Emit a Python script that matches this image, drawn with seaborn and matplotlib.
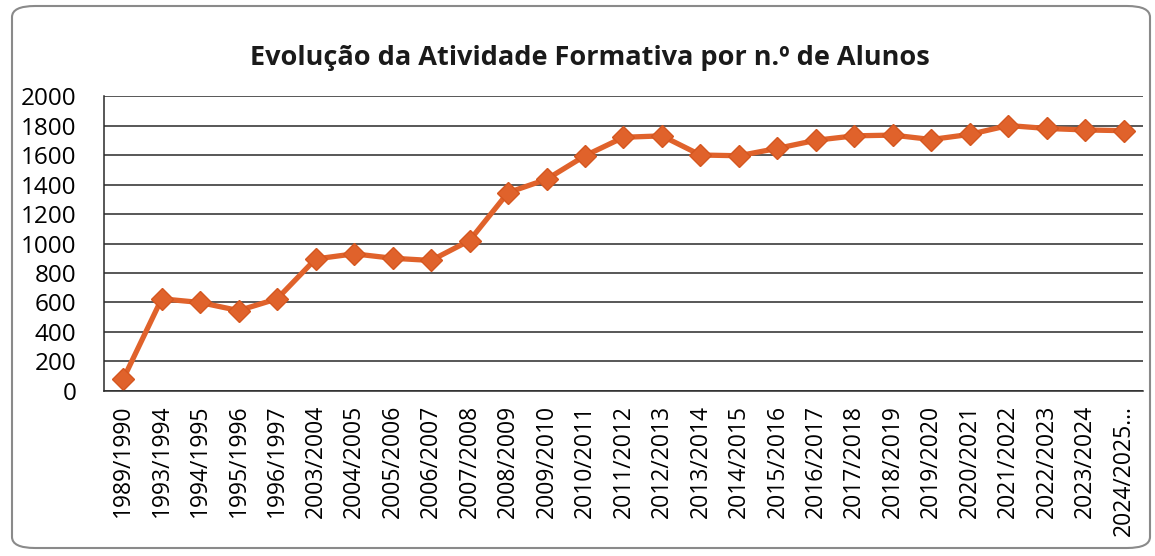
import matplotlib
matplotlib.use("Agg")
import matplotlib.pyplot as plt
from matplotlib.patches import FancyBboxPatch
import seaborn as sns
import pandas as pd

anos = ["1989/1990", "1993/1994", "1994/1995", "1995/1996", "1996/1997",
        "2003/2004", "2004/2005", "2005/2006", "2006/2007", "2007/2008",
        "2008/2009", "2009/2010", "2010/2011", "2011/2012", "2012/2013",
        "2013/2014", "2014/2015", "2015/2016", "2016/2017", "2017/2018",
        "2018/2019", "2019/2020", "2020/2021", "2021/2022", "2022/2023",
        "2023/2024", "2024/2025..."]
alunos = [80, 625, 600, 545, 625, 895, 930, 900, 885, 1020,
          1345, 1435, 1595, 1720, 1730, 1600, 1595, 1645, 1700, 1730,
          1735, 1705, 1740, 1800, 1780, 1770, 1765]
y_ticks = list(range(0, 2001, 200))
titulo = "Evolução da Atividade Formativa por n.º de Alunos"

sns.set_theme(style="white")
plt.rcParams["font.family"] = ["Open Sans", "DejaVu Sans"]

df = pd.DataFrame({"ano": anos, "alunos": alunos})

fig = plt.figure(figsize=(11.55, 5.56), dpi=100)
ax = fig.add_axes([0.090, 0.2968, 0.8996, 0.5305])

cor = "#E0622B"
sns.lineplot(data=df, x="ano", y="alunos", sort=False, ax=ax, color=cor,
             linewidth=3.8, marker="D", markersize=11.5,
             markeredgecolor="#D5561F", markeredgewidth=1.0)

ax.set_ylim(0, 2000)
ax.set_xlim(-0.5, len(anos) - 0.5)
ax.set_yticks(y_ticks)
ax.set_yticklabels([str(v) for v in y_ticks], fontsize=17.5, color="black")
ax.set_xticks(range(len(anos)))
ax.set_xticklabels(anos, rotation=90, fontsize=16.5, color="black")
ax.tick_params(axis="y", length=0, pad=20)
ax.tick_params(axis="x", length=0, pad=10)
ax.set_xlabel("")
ax.set_ylabel("")

ax.grid(axis="y", color="#2a2a2a", linewidth=1.1)
ax.grid(axis="x", visible=False)
ax.set_axisbelow(True)
for s in ["top", "right"]:
    ax.spines[s].set_visible(False)
ax.spines["left"].set_color("#2a2a2a")
ax.spines["left"].set_linewidth(1.1)
ax.spines["bottom"].set_color("#2a2a2a")
ax.spines["bottom"].set_linewidth(1.1)

fig.text(590 / 1155, 1 - 58 / 556, titulo, ha="center", va="center",
         fontsize=19.5, fontweight="bold", color="#1a1a1a")

border = FancyBboxPatch((12 / 1155, 8 / 556), (1150 - 12) / 1155, (550 - 8) / 556,
                        boxstyle="round,pad=0,rounding_size=0.02",
                        transform=fig.transFigure, fill=False,
                        edgecolor="#8a8a8a", linewidth=1.5)
fig.patches.append(border)

fig.savefig("out.png", dpi=100)
